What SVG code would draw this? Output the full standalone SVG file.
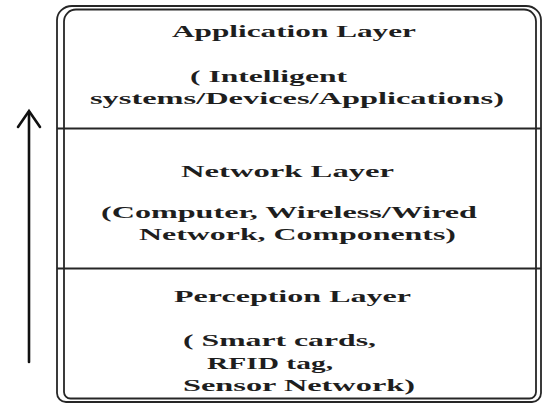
<svg xmlns="http://www.w3.org/2000/svg" width="548" height="405" viewBox="0 0 548 405">
  <style>
    .frame { fill: none; stroke: #262626; stroke-width: 1.8; }
    .divider { stroke: #262626; stroke-width: 1.8; }
    .t { font-family: "Liberation Serif", "Times New Roman", serif; font-weight: bold; font-size: 17.5px; fill: #1e1e1e; }
    .arrow { fill: none; stroke: #111; stroke-width: 2.6; stroke-linecap: round; stroke-linejoin: miter; }
  </style>
  <rect x="0" y="0" width="548" height="405" fill="#ffffff"/>

  <!-- double rounded frame around the layer stack -->
  <g id="frame">
    <path class="frame" d="M57,20 A15,14 0 0 1 72,6 H526 A15,14 0 0 1 541,20 V393 A9,9 0 0 1 532,402 H66 A9,9 0 0 1 57,393 Z"/>
    <path class="frame" d="M64,21.5 A12,12 0 0 1 76,9.5 H524 A12,12 0 0 1 536,21.5 V392 A6.5,6.5 0 0 1 529.5,398.5 H70.5 A6.5,6.5 0 0 1 64,392 Z"/>
  </g>

  <!-- top layer -->
  <g id="application-layer">
    <text class="t" x="172" y="37" textLength="244" lengthAdjust="spacingAndGlyphs">Application Layer</text>
    <text class="t" x="190" y="82" textLength="157" lengthAdjust="spacingAndGlyphs">( Intelligent</text>
    <text class="t" x="90" y="104" textLength="414" lengthAdjust="spacingAndGlyphs">systems/Devices/Applications)</text>
  </g>

  <!-- middle layer -->
  <g id="network-layer">
    <line class="divider" x1="57" y1="128.5" x2="541" y2="128.5"/>
    <text class="t" x="181" y="177" textLength="213" lengthAdjust="spacingAndGlyphs">Network Layer</text>
    <text class="t" x="101" y="218" textLength="376" lengthAdjust="spacingAndGlyphs">(Computer, Wireless/Wired</text>
    <text class="t" x="139" y="240" textLength="317" lengthAdjust="spacingAndGlyphs">Network, Components)</text>
  </g>

  <!-- bottom layer -->
  <g id="perception-layer">
    <line class="divider" x1="57" y1="268.5" x2="541" y2="268.5"/>
    <text class="t" x="174" y="302" textLength="237" lengthAdjust="spacingAndGlyphs">Perception Layer</text>
    <text class="t" x="183" y="346" textLength="193" lengthAdjust="spacingAndGlyphs">( Smart cards,</text>
    <text class="t" x="207" y="369" textLength="126" lengthAdjust="spacingAndGlyphs">RFID tag,</text>
    <text class="t" x="183" y="391" textLength="232" lengthAdjust="spacingAndGlyphs">Sensor Network)</text>
  </g>

  <!-- upward flow arrow beside the stack -->
  <g id="connectors">
    <line class="arrow" x1="29" y1="362" x2="29" y2="112"/>
    <polyline class="arrow" points="18,127 29,111 40,127"/>
  </g>
</svg>
